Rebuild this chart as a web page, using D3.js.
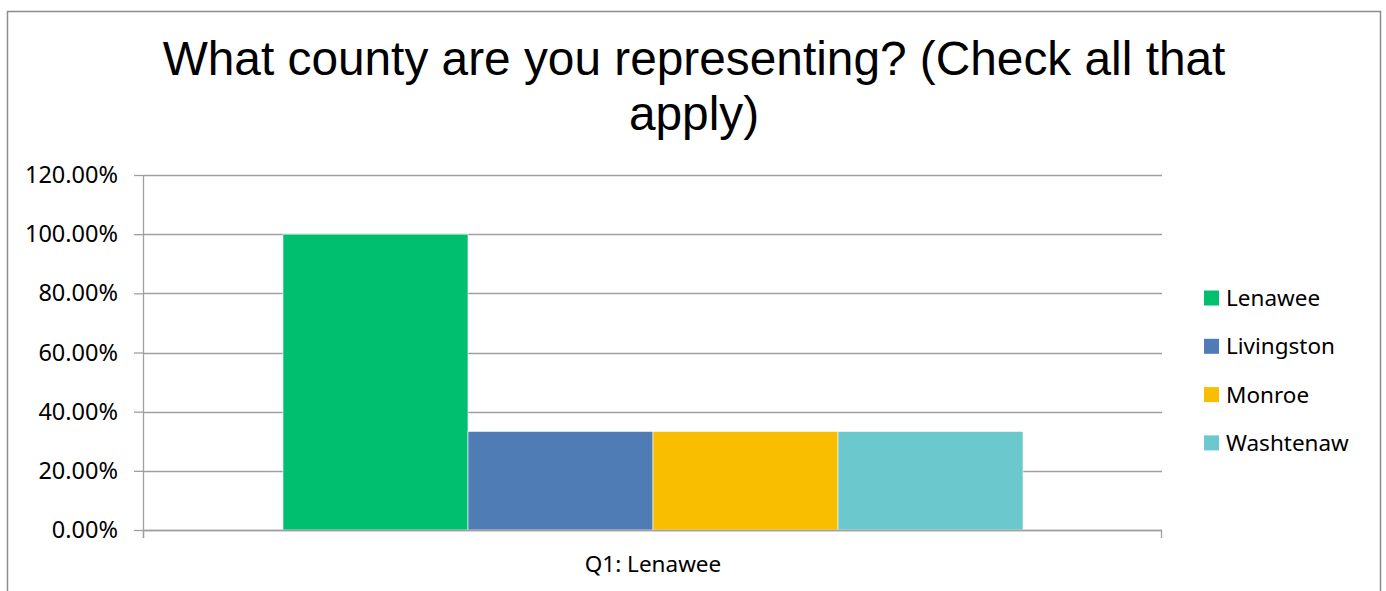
<!DOCTYPE html>
<html>
<head>
<meta charset="utf-8">
<script src="https://cdn.jsdelivr.net/npm/d3@7"></script>
<style>
  html, body { margin: 0; padding: 0; background: #fff; }
  svg { display: block; }
</style>
</head>
<body>
<div id="chart"></div>
<script>
// Chart data
const categories = ["Q1: Lenawee"];
const seriesNames = ["Lenawee", "Livingston", "Monroe", "Washtenaw"];
const seriesValues = [1.0, 0.3333, 0.3333, 0.3333];
const seriesColors = ["#00BF6F", "#507CB6", "#F9BE00", "#6BC8CD"];
const yTicks = [0, 0.2, 0.4, 0.6, 0.8, 1.0, 1.2];
const titleLines = ["What county are you representing? (Check all that", "apply)"];

const width = 1386, height = 591;
const plot = { left: 144, right: 1162, top: 175, bottom: 530 };
const gridColor = "#a0a0a0";
const textFont = "'Noto Sans', 'Open Sans', sans-serif";

const svg = d3.select("#chart")
    .append("svg")
    .attr("width", width)
    .attr("height", height);

// Outer chart border (bottom edge falls off the page)
svg.append("rect")
    .attr("x", 7.5)
    .attr("y", 11.5)
    .attr("width", 1373)
    .attr("height", 600)
    .attr("fill", "#fff")
    .attr("stroke", "#8c8c8c")
    .attr("stroke-width", 1.5);

// Title
const title = svg.append("text")
    .attr("text-anchor", "middle")
    .attr("font-family", "'Liberation Sans', Arial, sans-serif")
    .attr("font-size", "47.8px")
    .attr("fill", "#000");
titleLines.forEach((line, i) => {
    title.append("tspan")
        .attr("x", 694)
        .attr("y", 75 + i * 55)
        .text(line);
});

// Scales
const x0 = d3.scaleBand()
    .domain(categories)
    .range([plot.left, plot.right])
    .paddingInner(0)
    .paddingOuter(0.1878);

const x1 = d3.scaleBand()
    .domain(seriesNames)
    .range([0, x0.bandwidth()])
    .padding(0);

const y = d3.scaleLinear()
    .domain([0, 1.2])
    .range([plot.bottom, plot.top]);

// Gridlines + y ticks
const yAxisG = svg.append("g")
    .attr("transform", `translate(${plot.left},0)`)
    .call(d3.axisLeft(y)
        .tickValues(yTicks)
        .tickSize(10)
        .tickPadding(16)
        .tickFormat(d => (d * 100).toFixed(2) + "%"));
yAxisG.select(".domain").remove();
yAxisG.selectAll(".tick line").attr("stroke", gridColor).attr("stroke-width", 1.3);
yAxisG.selectAll(".tick text")
    .attr("font-family", textFont)
    .attr("font-size", "23.5px")
    .attr("fill", "#000");

svg.append("g")
    .selectAll("line")
    .data(yTicks)
    .join("line")
    .attr("x1", plot.left)
    .attr("x2", plot.right)
    .attr("y1", d => Math.round(y(d)) + 0.5)
    .attr("y2", d => Math.round(y(d)) + 0.5)
    .attr("stroke", gridColor)
    .attr("stroke-width", 1.3);

// y axis line
svg.append("line")
    .attr("x1", plot.left - 0.5)
    .attr("x2", plot.left - 0.5)
    .attr("y1", plot.top)
    .attr("y2", plot.bottom + 8)
    .attr("stroke", gridColor)
    .attr("stroke-width", 1.3);

// Bars
const groups = svg.append("g")
    .selectAll("g")
    .data(categories)
    .join("g")
    .attr("transform", d => `translate(${x0(d)},0)`);

groups.selectAll("rect")
    .data(() => seriesNames.map((name, i) => ({ name, value: seriesValues[i], color: seriesColors[i] })))
    .join("rect")
    .attr("x", d => x1(d.name))
    .attr("width", x1.bandwidth())
    .attr("y", d => y(d.value))
    .attr("height", d => y(0) - y(d.value))
    .attr("fill", d => d.color)
    .attr("stroke", "#fff")
    .attr("stroke-width", 0.6);

// x axis
const xAxisG = svg.append("g")
    .attr("transform", `translate(0,${plot.bottom})`)
    .call(d3.axisBottom(x0).tickSize(0).tickPadding(26));
xAxisG.select(".domain").remove();
xAxisG.selectAll(".tick text")
    .attr("font-family", textFont)
    .attr("font-size", "22.5px")
    .attr("fill", "#000");

svg.append("line")
    .attr("x1", plot.left)
    .attr("x2", plot.right)
    .attr("y1", plot.bottom + 0.5)
    .attr("y2", plot.bottom + 0.5)
    .attr("stroke", gridColor)
    .attr("stroke-width", 1.3);

// Category boundary ticks
svg.append("g")
    .selectAll("line")
    .data([plot.left, plot.right])
    .join("line")
    .attr("x1", d => d - 0.5)
    .attr("x2", d => d - 0.5)
    .attr("y1", plot.bottom)
    .attr("y2", plot.bottom + 8)
    .attr("stroke", gridColor)
    .attr("stroke-width", 1.3);

// Legend
const legend = svg.append("g")
    .selectAll("g")
    .data(seriesNames)
    .join("g")
    .attr("transform", (d, i) => `translate(1204,${298 + i * 48.3})`);

legend.append("rect")
    .attr("x", 0)
    .attr("y", -7.5)
    .attr("width", 15)
    .attr("height", 15)
    .attr("fill", (d, i) => seriesColors[i]);

legend.append("text")
    .attr("x", 22)
    .attr("y", 8)
    .attr("font-family", textFont)
    .attr("font-size", "22.5px")
    .attr("fill", "#000")
    .text(d => d);
</script>
</body>
</html>
